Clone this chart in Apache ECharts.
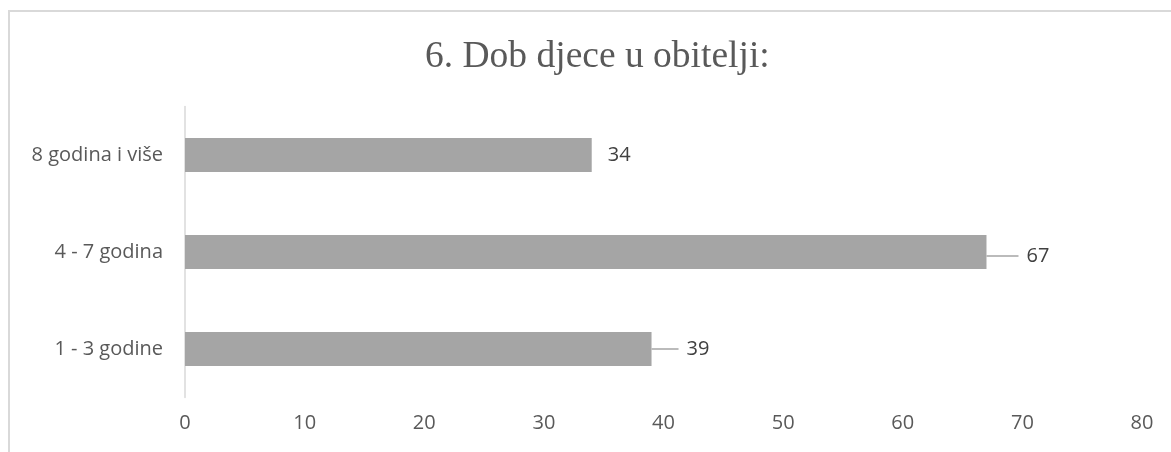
<!DOCTYPE html>
<html>
<head>
    <meta charset="utf-8">
    <title>Dob djece u obitelji</title>
    <script src="https://cdn.jsdelivr.net/npm/echarts@6/dist/echarts.min.js"></script>
    <style>
        html, body { margin: 0; padding: 0; background: #fff; }
        #chart { width: 1171px; height: 452px; }
    </style>
</head>
<body>
    <div id="chart"></div>
    <script>
        // kategorije (odozdo prema gore) i vrijednosti
        const categories = ['1 - 3 godine', '4 - 7 godina', '8 godina i više'];
        const values = [39, 67, 34];
        const xTicks = { min: 0, max: 80, interval: 10 };
        // pomak oznake (s linijom) za pojedine stupce
        const labelShift = [19, 24, 0];

        const chart = echarts.init(document.getElementById('chart'));

        const barData = values.map((v, i) => ({
            value: v,
            labelLine: { show: labelShift[i] > 0 }
        }));

        const option = {
            animation: false,
            title: {
                text: '6. Dob djece u obitelji:',
                left: 420,
                top: 33,
                textStyle: {
                    fontFamily: 'Liberation Serif',
                    fontSize: 37.5,
                    fontWeight: 'normal',
                    color: '#595959'
                }
            },
            graphic: [{
                type: 'rect',
                shape: { x: 9, y: 11, width: 1200, height: 500 },
                style: { fill: 'none', stroke: '#d9d9d9', lineWidth: 2 },
                silent: true
            }],
            grid: { left: 185, right: 29, top: 106.5, bottom: 54.5 },
            xAxis: {
                type: 'value',
                min: xTicks.min,
                max: xTicks.max,
                interval: xTicks.interval,
                axisLine: { show: false },
                axisTick: { show: false },
                splitLine: { show: false },
                axisLabel: {
                    margin: 16,
                    fontFamily: 'Open Sans',
                    fontSize: 20,
                    color: '#595959'
                }
            },
            yAxis: {
                type: 'category',
                data: categories,
                axisLine: { show: true, lineStyle: { color: '#d9d9d9', width: 1.5 } },
                axisTick: { show: false },
                axisLabel: {
                    margin: 22,
                    fontFamily: 'Open Sans',
                    fontSize: 20,
                    color: '#595959'
                }
            },
            series: [{
                type: 'bar',
                data: barData,
                barWidth: 34,
                itemStyle: { color: '#a5a5a5' },
                label: {
                    show: true,
                    position: 'right',
                    distance: 8,
                    formatter: p => '{g|}{v|' + p.value + '}',
                    rich: {
                        g: { width: 8 },
                        v: { fontFamily: 'Open Sans', fontSize: 20, color: '#404040' }
                    },
                    fontFamily: 'Open Sans',
                    fontSize: 20,
                    color: '#404040'
                },
                labelLayout: function (params) {
                    return {
                        dx: labelShift[params.dataIndex],
                        dy: params.dataIndex === 1 ? 4 : 0
                    };
                },
                labelLine: {
                    show: true,
                    lineStyle: { color: '#a5a5a5', width: 1.5 }
                }
            }]
        };

        chart.setOption(option);
    </script>
</body>
</html>
